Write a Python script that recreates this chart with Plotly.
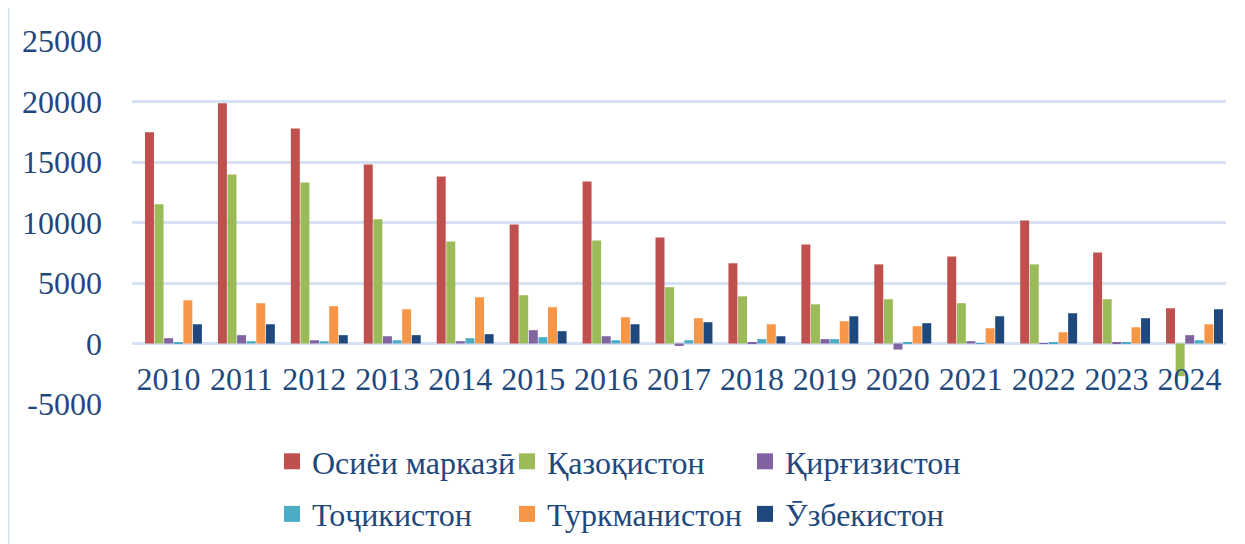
import plotly.graph_objects as go

years = ["2010", "2011", "2012", "2013", "2014", "2015", "2016", "2017",
         "2018", "2019", "2020", "2021", "2022", "2023", "2024"]

central_asia = [17450, 19850, 17760, 14790, 13800, 9840, 13390, 8770,
                6630, 8190, 6540, 7200, 10170, 7530, 2910]
kazakhstan = [11500, 13970, 13310, 10260, 8440, 3990, 8520, 4650,
              3900, 3240, 3660, 3330, 6540, 3660, -2700]
kyrgyzstan = [440, 690, 270, 600, 190, 1100, 600, -200,
              100, 360, -500, 190, 30, 100, 690]
tajikistan = [100, 190, 190, 270, 440, 520, 270, 270,
              360, 360, 100, 30, 100, 100, 270]
turkmenistan = [3570, 3330, 3080, 2830, 3820, 3000, 2170, 2090,
                1590, 1840, 1430, 1260, 930, 1340, 1590]
uzbekistan = [1590, 1590, 690, 690, 770, 1020, 1590, 1760,
              600, 2250, 1680, 2250, 2500, 2090, 2830]

series_names = ["Осиёи марказӣ", "Қазоқистон", "Қирғизистон",
                "Тоҷикистон", "Туркманистон", "Ӯзбекистон"]
series_values = [central_asia, kazakhstan, kyrgyzstan,
                 tajikistan, turkmenistan, uzbekistan]
colors = ["#C0504D", "#9BBB59", "#8064A2", "#4BACC6", "#F79646", "#1F497D"]
# legend column of each series (3 columns x 2 rows)
legend_ids = ["legend", "legend2", "legend3", "legend", "legend2", "legend3"]

y_ticks = [-5000, 0, 5000, 10000, 15000, 20000, 25000]

text_color = "#1F497D"
grid_color = "#D5E2F3"
font_family = "Liberation Serif, Times New Roman, serif"

# bar placement within a category (category units)
first_offset = -0.322
slot = 0.1315
bar_width = 0.123

fig = go.Figure()
for i, (name, vals, col, lg) in enumerate(zip(series_names, series_values,
                                              colors, legend_ids)):
    fig.add_trace(go.Bar(x=years, y=vals, name=name, legendgroup=name,
                         showlegend=False,
                         offset=first_offset + i * slot, width=bar_width,
                         marker=dict(color=col, line=dict(width=0))))
    # legend entry with a larger square key
    fig.add_trace(go.Scatter(x=[None], y=[None], mode="markers", name=name,
                             legend=lg, legendgroup=name, showlegend=True,
                             marker=dict(symbol="square", size=17, color=col)))

# page body adds an 8 px offset; figure is sized to fit the window
W, H = 1237, 536
ml, mr, mt, mb = 124, 19, 33, 140
pw = W - ml - mr
ph = H - mt - mb


def legend_at(px_left):
    return dict(orientation="v", x=(px_left - ml) / pw, xanchor="left",
                y=-(426 - (mt + ph)) / ph, yanchor="top",
                font=dict(size=32, family=font_family, color=text_color),
                bgcolor="rgba(0,0,0,0)", tracegroupgap=8,
                traceorder="grouped", itemsizing="trace")


fig.update_layout(
    width=W, height=H,
    margin=dict(l=ml, r=mr, t=mt, b=mb, pad=0, autoexpand=False),
    paper_bgcolor="white", plot_bgcolor="white",
    barmode="overlay",
    font=dict(family=font_family, color=text_color),
    showlegend=True,
    legend=legend_at(264),
    legend2=legend_at(499),
    legend3=legend_at(737),
    xaxis=dict(type="category", anchor="free", position=1 / 6,
               range=[-0.5, len(years) - 0.5],
               showgrid=False, showline=False, zeroline=False, ticks="",
               tickfont=dict(size=32, family=font_family, color=text_color),
               ticklabelstandoff=13),
    yaxis=dict(range=[-5000, 25000], tickvals=y_ticks,
               ticktext=[str(v) for v in y_ticks],
               showgrid=True, gridcolor=grid_color, gridwidth=2.5,
               zeroline=True, zerolinecolor=grid_color, zerolinewidth=3,
               showline=False, ticks="",
               tickfont=dict(size=32, family=font_family, color=text_color),
               ticklabelstandoff=29),
)

fig.add_shape(type="line", xref="paper", yref="paper",
              x0=(0.5 - ml) / pw, x1=(0.5 - ml) / pw,
              y0=-mb / ph, y1=1 + mt / ph,
              line=dict(color=grid_color, width=2))

fig.write_html("out.html")
